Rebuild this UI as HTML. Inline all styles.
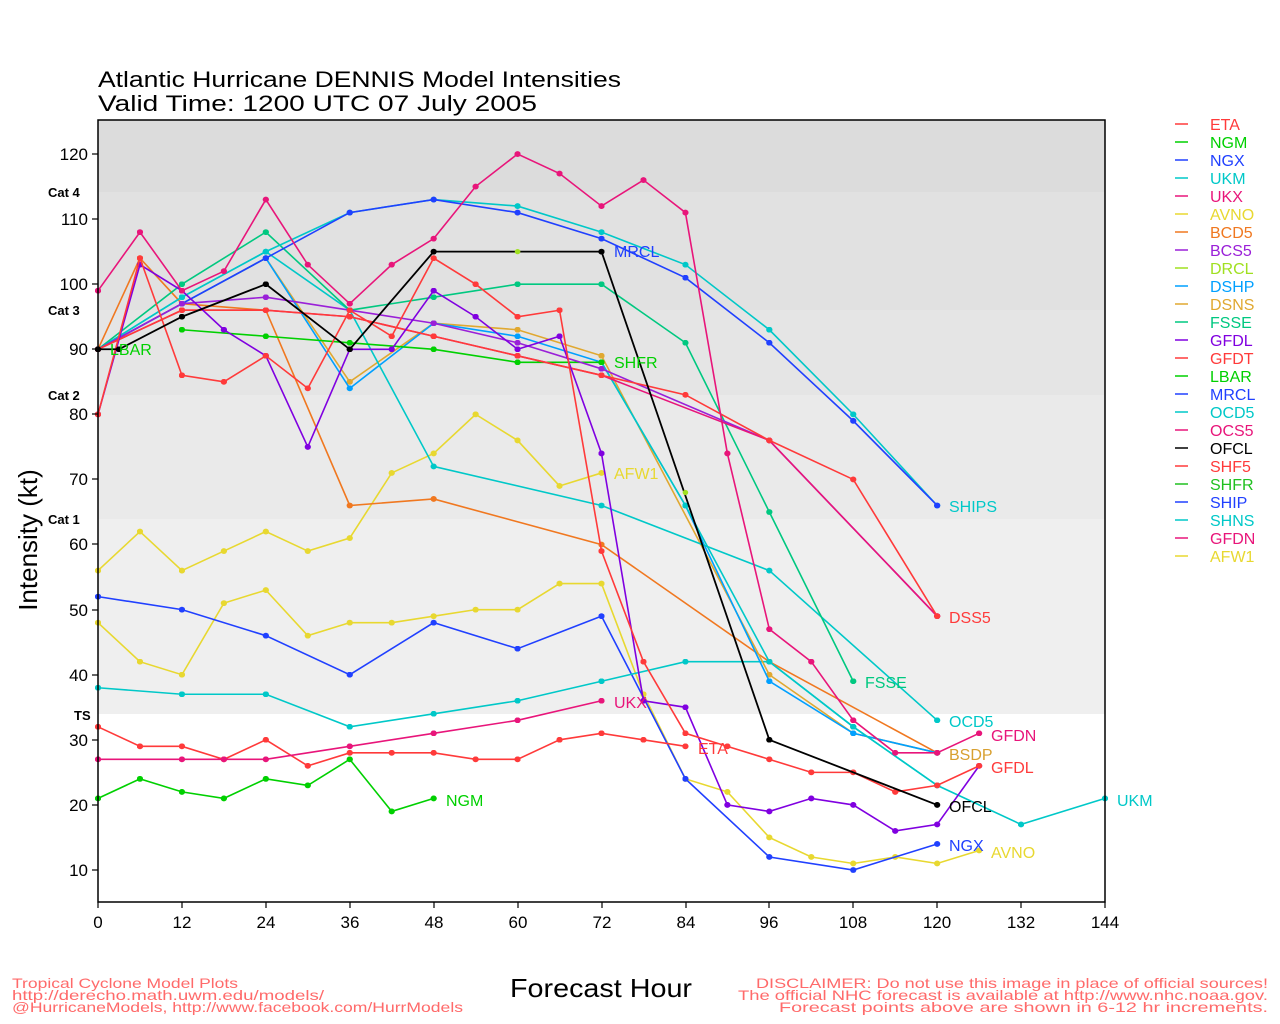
<!DOCTYPE html>
<html><head><meta charset="utf-8"><style>
html,body{margin:0;padding:0;background:#fff;}
svg{display:block;font-family:"Liberation Sans",sans-serif;}
</style></head><body>
<svg width="1280" height="1024" viewBox="0 0 1280 1024" xmlns="http://www.w3.org/2000/svg">
<rect x="0" y="0" width="1280" height="1024" fill="#fff"/>
<!-- bands -->
<rect x="98" y="120" width="1007" height="72" fill="#dcdcdc"/>
<rect x="98" y="192" width="1007" height="118" fill="#e1e1e1"/>
<rect x="98" y="310" width="1007" height="85" fill="#e5e5e5"/>
<rect x="98" y="395" width="1007" height="124" fill="#eaeaea"/>
<rect x="98" y="519" width="1007" height="195" fill="#efefef"/>
<defs>
<marker id="mred" markerUnits="userSpaceOnUse" viewBox="-1 -1 2 2" markerWidth="0.9" markerHeight="0.9"><circle r="1" fill="#ff3a3a"/></marker>
<marker id="mgrn" markerUnits="userSpaceOnUse" viewBox="-1 -1 2 2" markerWidth="0.9" markerHeight="0.9"><circle r="1" fill="#00d000"/></marker>
<marker id="mblu" markerUnits="userSpaceOnUse" viewBox="-1 -1 2 2" markerWidth="0.9" markerHeight="0.9"><circle r="1" fill="#2040ff"/></marker>
<marker id="mcyn" markerUnits="userSpaceOnUse" viewBox="-1 -1 2 2" markerWidth="0.9" markerHeight="0.9"><circle r="1" fill="#00c8c8"/></marker>
<marker id="mpnk" markerUnits="userSpaceOnUse" viewBox="-1 -1 2 2" markerWidth="0.9" markerHeight="0.9"><circle r="1" fill="#e8157a"/></marker>
<marker id="myel" markerUnits="userSpaceOnUse" viewBox="-1 -1 2 2" markerWidth="0.9" markerHeight="0.9"><circle r="1" fill="#e8d830"/></marker>
<marker id="morg" markerUnits="userSpaceOnUse" viewBox="-1 -1 2 2" markerWidth="0.9" markerHeight="0.9"><circle r="1" fill="#f07820"/></marker>
<marker id="mpur" markerUnits="userSpaceOnUse" viewBox="-1 -1 2 2" markerWidth="0.9" markerHeight="0.9"><circle r="1" fill="#8000e0"/></marker>
<marker id="mpu2" markerUnits="userSpaceOnUse" viewBox="-1 -1 2 2" markerWidth="0.9" markerHeight="0.9"><circle r="1" fill="#9a20d8"/></marker>
<marker id="mlim" markerUnits="userSpaceOnUse" viewBox="-1 -1 2 2" markerWidth="0.9" markerHeight="0.9"><circle r="1" fill="#a0e020"/></marker>
<marker id="msky" markerUnits="userSpaceOnUse" viewBox="-1 -1 2 2" markerWidth="0.9" markerHeight="0.9"><circle r="1" fill="#00a0ff"/></marker>
<marker id="mgld" markerUnits="userSpaceOnUse" viewBox="-1 -1 2 2" markerWidth="0.9" markerHeight="0.9"><circle r="1" fill="#e0a830"/></marker>
<marker id="mtea" markerUnits="userSpaceOnUse" viewBox="-1 -1 2 2" markerWidth="0.9" markerHeight="0.9"><circle r="1" fill="#00c880"/></marker>
<marker id="mblk" markerUnits="userSpaceOnUse" viewBox="-1 -1 2 2" markerWidth="0.9" markerHeight="0.9"><circle r="1" fill="#000"/></marker>
</defs>
<g transform="translate(98,870) scale(6.993,-6.509) translate(0,-10)" fill="none" stroke-width="1.6">
<g style="vector-effect:non-scaling-stroke">
<polyline vector-effect="non-scaling-stroke" stroke="#e8d830" marker-start="url(#myel)" marker-mid="url(#myel)" marker-end="url(#myel)" points="0,56 6,62 12,56 18,59 24,62 30,59 36,61 42,71 48,74 54,80 60,76 66,69 72,71"/>
<polyline vector-effect="non-scaling-stroke" stroke="#e8d830" marker-start="url(#myel)" marker-mid="url(#myel)" marker-end="url(#myel)" points="0,48 6,42 12,40 18,51 24,53 30,46 36,48 42,48 48,49 54,50 60,50 66,54 72,54 78,37 84,24 90,22 96,15 102,12 108,11 114,12 120,11 126,13"/>
<polyline vector-effect="non-scaling-stroke" stroke="#2040ff" marker-start="url(#mblu)" marker-mid="url(#mblu)" marker-end="url(#mblu)" points="0,52 12,50 24,46 36,40 48,48 60,44 72,49 84,24 96,12 108,10 120,14"/>
<polyline vector-effect="non-scaling-stroke" stroke="#00c8c8" marker-start="url(#mcyn)" marker-mid="url(#mcyn)" marker-end="url(#mcyn)" points="0,38 12,37 24,37 36,32 48,34 60,36 72,39 84,42 96,42 108,32 120,23 132,17 144,21"/>
<polyline vector-effect="non-scaling-stroke" stroke="#ff3a3a" marker-start="url(#mred)" marker-mid="url(#mred)" marker-end="url(#mred)" points="0,32 6,29 12,29 18,27 24,30 30,26 36,28 42,28 48,28 54,27 60,27 66,30 72,31 78,30 84,29"/>
<polyline vector-effect="non-scaling-stroke" stroke="#e8157a" marker-start="url(#mpnk)" marker-mid="url(#mpnk)" marker-end="url(#mpnk)" points="0,27 12,27 18,27 24,27 36,29 48,31 60,33 72,36"/>
<polyline vector-effect="non-scaling-stroke" stroke="#00d000" marker-start="url(#mgrn)" marker-mid="url(#mgrn)" marker-end="url(#mgrn)" points="0,21 6,24 12,22 18,21 24,24 30,23 36,27 42,19 48,21"/>
<polyline vector-effect="non-scaling-stroke" stroke="#f07820" marker-start="url(#morg)" marker-mid="url(#morg)" marker-end="url(#morg)" points="0,90 6,104 12,97 24,96 36,66 48,67 72,60 96,42 120,28"/>
<polyline vector-effect="non-scaling-stroke" stroke="#e0a830" marker-start="url(#mgld)" marker-mid="url(#mgld)" marker-end="url(#mgld)" points="0,90 12,97 24,104 36,85 48,94 60,93 72,89 96,40 108,31 120,28"/>
<polyline vector-effect="non-scaling-stroke" stroke="#00a0ff" marker-start="url(#msky)" marker-mid="url(#msky)" marker-end="url(#msky)" points="0,90 12,97 24,104 36,84 48,94 60,92 72,88 84,66 96,39 108,31 120,28"/>
<polyline vector-effect="non-scaling-stroke" stroke="#00c8c8" marker-start="url(#mcyn)" marker-mid="url(#mcyn)" marker-end="url(#mcyn)" points="0,90 12,98 24,105 36,96 48,72 72,66 96,56 120,33"/>
<polyline vector-effect="non-scaling-stroke" stroke="#00c8c8" marker-start="url(#mcyn)" marker-mid="url(#mcyn)" marker-end="url(#mcyn)" points="72,88 84,66 96,42 108,32 120,23"/>
<polyline vector-effect="non-scaling-stroke" stroke="#00c880" marker-start="url(#mtea)" marker-mid="url(#mtea)" marker-end="url(#mtea)" points="0,90 12,100 24,108 36,96 48,98 60,100 72,100 84,91 96,65 108,39"/>
<polyline vector-effect="non-scaling-stroke" stroke="#00c8c8" marker-start="url(#mcyn)" marker-mid="url(#mcyn)" marker-end="url(#mcyn)" points="0,90 12,98 24,105 36,111 48,113 60,112 72,108 84,103 96,93 108,80 120,66"/>
<polyline vector-effect="non-scaling-stroke" stroke="#2040ff" marker-start="url(#mblu)" marker-mid="url(#mblu)" marker-end="url(#mblu)" points="0,90 12,97 24,104 36,111 48,113 60,111 72,107 84,101 96,91 108,79 120,66"/>
<polyline vector-effect="non-scaling-stroke" stroke="#00d000" marker-start="url(#mgrn)" marker-mid="url(#mgrn)" marker-end="url(#mgrn)" points="12,93 24,92 36,91 48,90 60,88 72,88"/>
<polyline vector-effect="non-scaling-stroke" stroke="#9a20d8" marker-start="url(#mpu2)" marker-mid="url(#mpu2)" marker-end="url(#mpu2)" points="0,90 12,97 24,98 36,96 48,94 60,91 72,87 96,76 120,49"/>
<polyline vector-effect="non-scaling-stroke" stroke="#e8157a" marker-start="url(#mpnk)" marker-mid="url(#mpnk)" marker-end="url(#mpnk)" points="0,90 12,96 24,96 36,95 48,92 60,89 72,86 96,76 120,49"/>
<polyline vector-effect="non-scaling-stroke" stroke="#ff3a3a" marker-start="url(#mred)" marker-mid="url(#mred)" marker-end="url(#mred)" points="0,90 12,96 24,96 36,95 48,92 60,89 72,86 84,83 96,76 108,70 120,49"/>
<polyline vector-effect="non-scaling-stroke" stroke="#8000e0" marker-start="url(#mpur)" marker-mid="url(#mpur)" marker-end="url(#mpur)" points="0,80 6,103 12,99 18,93 24,89 30,75 36,90 42,90 48,99 54,95 60,90 66,92 72,74 78,36 84,35 90,20 96,19 102,21 108,20 114,16 120,17 126,26"/>
<polyline vector-effect="non-scaling-stroke" stroke="#ff3a3a" marker-start="url(#mred)" marker-mid="url(#mred)" marker-end="url(#mred)" points="0,80 6,104 12,86 18,85 24,89 30,84 36,96 42,92 48,104 54,100 60,95 66,96 72,59 78,42 84,31 90,29 96,27 102,25 108,25 114,22 120,23 126,26"/>
<polyline vector-effect="non-scaling-stroke" stroke="#e8157a" marker-start="url(#mpnk)" marker-mid="url(#mpnk)" marker-end="url(#mpnk)" points="0,99 6,108 12,99 18,102 24,113 30,103 36,97 42,103 48,107 54,115 60,120 66,117 72,112 78,116 84,111 90,74 96,47 102,42 108,33 114,28 120,28 126,31"/>
<polyline vector-effect="non-scaling-stroke" stroke="#000" stroke-width="1.8" marker-start="url(#mblk)" marker-mid="url(#mblk)" marker-end="url(#mblk)" points="0,90 3,90 12,95 24,100 36,90 48,105 72,105 96,30 120,20"/>
<circle cx="60" cy="105" r="0.4" fill="#a0e020"/>
<circle cx="84" cy="68" r="0.4" fill="#a0e020"/>
</g>
</g>
<!-- frame -->
<rect x="98" y="120" width="1007" height="782" fill="none" stroke="#000" stroke-width="1.5"/>
<g stroke="#000" stroke-width="1.2">
<line x1="92" y1="154" x2="98" y2="154"/><line x1="92" y1="219" x2="98" y2="219"/><line x1="92" y1="284" x2="98" y2="284"/><line x1="92" y1="349" x2="98" y2="349"/><line x1="92" y1="414" x2="98" y2="414"/><line x1="92" y1="479" x2="98" y2="479"/><line x1="92" y1="544" x2="98" y2="544"/><line x1="92" y1="610" x2="98" y2="610"/><line x1="92" y1="675" x2="98" y2="675"/><line x1="92" y1="740" x2="98" y2="740"/><line x1="92" y1="805" x2="98" y2="805"/><line x1="92" y1="870" x2="98" y2="870"/>
<line x1="98" y1="902" x2="98" y2="908"/><line x1="182" y1="902" x2="182" y2="908"/><line x1="266" y1="902" x2="266" y2="908"/><line x1="350" y1="902" x2="350" y2="908"/><line x1="434" y1="902" x2="434" y2="908"/><line x1="518" y1="902" x2="518" y2="908"/><line x1="602" y1="902" x2="602" y2="908"/><line x1="686" y1="902" x2="686" y2="908"/><line x1="769" y1="902" x2="769" y2="908"/><line x1="853" y1="902" x2="853" y2="908"/><line x1="937" y1="902" x2="937" y2="908"/><line x1="1021" y1="902" x2="1021" y2="908"/><line x1="1105" y1="902" x2="1105" y2="908"/>
</g>
<g font-size="17" fill="#000" text-anchor="end">
<text x="88" y="160">120</text><text x="88" y="225">110</text><text x="88" y="290">100</text><text x="88" y="355">90</text><text x="88" y="420">80</text><text x="88" y="485">70</text><text x="88" y="550">60</text><text x="88" y="616">50</text><text x="88" y="681">40</text><text x="88" y="746">30</text><text x="88" y="811">20</text><text x="88" y="876">10</text>
</g>
<g font-size="17" fill="#000" text-anchor="middle">
<text x="98" y="928">0</text><text x="182" y="928">12</text><text x="266" y="928">24</text><text x="350" y="928">36</text><text x="434" y="928">48</text><text x="518" y="928">60</text><text x="602" y="928">72</text><text x="686" y="928">84</text><text x="769" y="928">96</text><text x="853" y="928">108</text><text x="937" y="928">120</text><text x="1021" y="928">132</text><text x="1105" y="928">144</text>
</g>
<g font-size="13" font-weight="bold" fill="#000">
<text x="48" y="197">Cat 4</text><text x="48" y="315">Cat 3</text><text x="48" y="400">Cat 2</text><text x="48" y="524">Cat 1</text><text x="74" y="720">TS</text>
</g>
<text x="98" y="87" font-size="22" textLength="523" lengthAdjust="spacingAndGlyphs">Atlantic Hurricane DENNIS Model Intensities</text>
<text x="98" y="111" font-size="22" textLength="439" lengthAdjust="spacingAndGlyphs">Valid Time: 1200 UTC 07 July 2005</text>
<text transform="translate(37,540) rotate(-90)" font-size="26" text-anchor="middle">Intensity (kt)</text>
<text x="601" y="997" font-size="26" text-anchor="middle" textLength="182" lengthAdjust="spacingAndGlyphs">Forecast Hour</text>
<g font-size="14" fill="#ff6a6a">
<text x="12" y="988" textLength="226" lengthAdjust="spacingAndGlyphs">Tropical Cyclone Model Plots</text>
<text x="12" y="1000" textLength="312" lengthAdjust="spacingAndGlyphs">http://derecho.math.uwm.edu/models/</text>
<text x="12" y="1012" textLength="451" lengthAdjust="spacingAndGlyphs">@HurricaneModels, http://www.facebook.com/HurrModels</text>
<text x="1268" y="988" text-anchor="end" textLength="512" lengthAdjust="spacingAndGlyphs">DISCLAIMER: Do not use this image in place of official sources!</text>
<text x="1268" y="1000" text-anchor="end" textLength="530" lengthAdjust="spacingAndGlyphs">The official NHC forecast is available at http://www.nhc.noaa.gov.</text>
<text x="1268" y="1012" text-anchor="end" textLength="489" lengthAdjust="spacingAndGlyphs">Forecast points above are shown in 6-12 hr increments.</text>
</g>
<!-- in-plot labels -->
<g font-size="16">
<text x="110" y="355" fill="#00d000">LBAR</text>
<text x="614" y="257" fill="#2040ff">MRCL</text>
<text x="614" y="368" fill="#00d000">SHFR</text>
<text x="614" y="479" fill="#e8d830">AFW1</text>
<text x="614" y="708" fill="#e8157a">UKX</text>
<text x="698" y="754" fill="#ff3a3a">ETA</text>
<text x="446" y="806" fill="#00d000">NGM</text>
<text x="865" y="688" fill="#00c880">FSSE</text>
<text x="949" y="512" fill="#00c8c8">SHIPS</text>
<text x="949" y="623" fill="#ff3a3a">DSS5</text>
<text x="949" y="727" fill="#00c8c8">OCD5</text>
<text x="949" y="760" fill="#d8a030">BSDP</text>
<text x="991" y="741" fill="#e8157a">GFDN</text>
<text x="991" y="773" fill="#ff3a3a">GFDL</text>
<text x="949" y="812" fill="#000">OFCL</text>
<text x="949" y="851" fill="#2040ff">NGX</text>
<text x="991" y="858" fill="#e8d830">AVNO</text>
<text x="1117" y="806" fill="#00c8c8">UKM</text>
</g>
<!-- legend -->
<g font-size="16" stroke-width="1.5">
<line x1="1175" y1="124" x2="1188" y2="124" stroke="#ff3a3a"/><text x="1210" y="130" fill="#ff3a3a">ETA</text>
<line x1="1175" y1="142" x2="1188" y2="142" stroke="#00d000"/><text x="1210" y="148" fill="#00d000">NGM</text>
<line x1="1175" y1="160" x2="1188" y2="160" stroke="#2040ff"/><text x="1210" y="166" fill="#2040ff">NGX</text>
<line x1="1175" y1="178" x2="1188" y2="178" stroke="#00c8c8"/><text x="1210" y="184" fill="#00c8c8">UKM</text>
<line x1="1175" y1="196" x2="1188" y2="196" stroke="#e8157a"/><text x="1210" y="202" fill="#e8157a">UKX</text>
<line x1="1175" y1="214" x2="1188" y2="214" stroke="#e8d830"/><text x="1210" y="220" fill="#e8d830">AVNO</text>
<line x1="1175" y1="232" x2="1188" y2="232" stroke="#f07820"/><text x="1210" y="238" fill="#f07820">BCD5</text>
<line x1="1175" y1="250" x2="1188" y2="250" stroke="#9a20d8"/><text x="1210" y="256" fill="#9a20d8">BCS5</text>
<line x1="1175" y1="268" x2="1188" y2="268" stroke="#a0e020"/><text x="1210" y="274" fill="#a0e020">DRCL</text>
<line x1="1175" y1="286" x2="1188" y2="286" stroke="#00a0ff"/><text x="1210" y="292" fill="#00a0ff">DSHP</text>
<line x1="1175" y1="304" x2="1188" y2="304" stroke="#e0a830"/><text x="1210" y="310" fill="#e0a830">DSNS</text>
<line x1="1175" y1="322" x2="1188" y2="322" stroke="#00c880"/><text x="1210" y="328" fill="#00c880">FSSE</text>
<line x1="1175" y1="340" x2="1188" y2="340" stroke="#8000e0"/><text x="1210" y="346" fill="#8000e0">GFDL</text>
<line x1="1175" y1="358" x2="1188" y2="358" stroke="#ff3a3a"/><text x="1210" y="364" fill="#ff3a3a">GFDT</text>
<line x1="1175" y1="376" x2="1188" y2="376" stroke="#00d000"/><text x="1210" y="382" fill="#00d000">LBAR</text>
<line x1="1175" y1="394" x2="1188" y2="394" stroke="#2040ff"/><text x="1210" y="400" fill="#2040ff">MRCL</text>
<line x1="1175" y1="412" x2="1188" y2="412" stroke="#00c8c8"/><text x="1210" y="418" fill="#00c8c8">OCD5</text>
<line x1="1175" y1="430" x2="1188" y2="430" stroke="#e8157a"/><text x="1210" y="436" fill="#e8157a">OCS5</text>
<line x1="1175" y1="448" x2="1188" y2="448" stroke="#000"/><text x="1210" y="454" fill="#000">OFCL</text>
<line x1="1175" y1="466" x2="1188" y2="466" stroke="#ff3a3a"/><text x="1210" y="472" fill="#ff3a3a">SHF5</text>
<line x1="1175" y1="484" x2="1188" y2="484" stroke="#20c020"/><text x="1210" y="490" fill="#20c020">SHFR</text>
<line x1="1175" y1="502" x2="1188" y2="502" stroke="#2040ff"/><text x="1210" y="508" fill="#2040ff">SHIP</text>
<line x1="1175" y1="520" x2="1188" y2="520" stroke="#00c8c8"/><text x="1210" y="526" fill="#00c8c8">SHNS</text>
<line x1="1175" y1="538" x2="1188" y2="538" stroke="#e8157a"/><text x="1210" y="544" fill="#e8157a">GFDN</text>
<line x1="1175" y1="556" x2="1188" y2="556" stroke="#e8d830"/><text x="1210" y="562" fill="#e8d830">AFW1</text>
</g>
</svg>
</body></html>
